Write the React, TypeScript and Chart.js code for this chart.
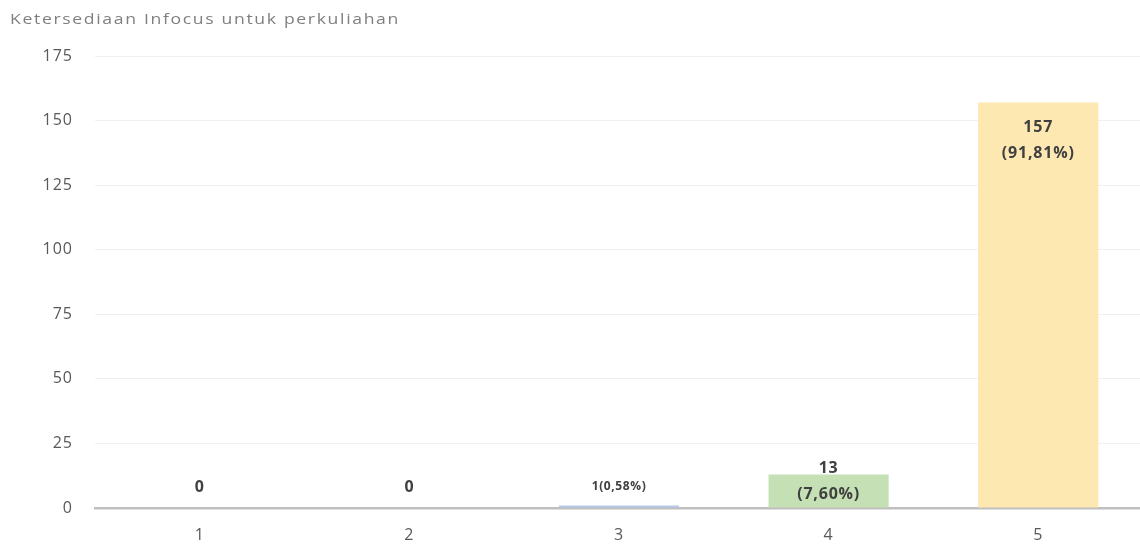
import React, { useEffect, useRef } from "react";
import { Chart, registerables } from "chart.js";

Chart.register(...registerables);

const chartTitle = "Ketersediaan Infocus untuk perkuliahan";
const categories = ["1", "2", "3", "4", "5"];
const counts = [0, 0, 1, 13, 157];
const percents = ["", "", "0,58%", "7,60%", "91,81%"];
const barColors = ["#b4c7e7", "#b4c7e7", "#b4c7e7", "#c5e0b4", "#fee8b2"];
const yTicks = [0, 25, 50, 75, 100, 125, 150, 175];

function labelLines(i: number): string[] {
  const c = counts[i];
  const p = percents[i];
  if (!p) return [String(c)];
  if (c === 1) return [`${c}(${p})`];
  return [String(c), `(${p})`];
}

const FONT = "'Open Sans', 'Noto Sans', sans-serif";

const spacingPlugin = {
  id: "spacing",
  beforeUpdate(chart: any) {
    (chart.ctx as any).letterSpacing = "1px";
  },
  beforeDraw(chart: any) {
    (chart.ctx as any).letterSpacing = "1px";
  },
};

const titlePlugin = {
  id: "leftTitle",
  afterDraw(chart: any) {
    const ctx = chart.ctx;
    ctx.save();
    ctx.font = `15px ${FONT}`;
    (ctx as any).letterSpacing = "1.4px";
    const w = ctx.measureText(chartTitle).width;
    const sx = 390 / w;
    ctx.translate(10, 20);
    ctx.scale(sx, 1);
    ctx.fillStyle = "#7f7f7f";
    ctx.textAlign = "left";
    ctx.textBaseline = "middle";
    ctx.fillText(chartTitle, 0, 0);
    ctx.restore();
  },
};

const labelPlugin = {
  id: "barLabels",
  afterDatasetsDraw(chart: any) {
    const ctx = chart.ctx;
    const meta = chart.getDatasetMeta(0);
    const base = chart.scales.y.getPixelForValue(0);
    ctx.save();
    ctx.fillStyle = "#404040";
    ctx.textAlign = "center";
    ctx.textBaseline = "middle";
    meta.data.forEach((bar: any, i: number) => {
      const lines = labelLines(i);
      const small = lines.length === 1 && lines[0].length > 4;
      ctx.font = `bold ${small ? 12 : 16}px ${FONT}`;
      (ctx as any).letterSpacing = small ? "0.6px" : "0.8px";
      const lh = 25.5;
      const height = base - bar.y;
      let first: number;
      if (height > lines.length * lh + 10) {
        first = bar.y + 25;
      } else {
        const center = lines.length === 1 ? base - 21 : base - 26.5;
        first = center - ((lines.length - 1) * lh) / 2;
      }
      lines.forEach((t, k) => ctx.fillText(t, bar.x, first + k * lh));
    });
    ctx.restore();
  },
};

export default function App() {
  const ref = useRef<HTMLCanvasElement>(null);
  useEffect(() => {
    document.body.style.margin = "0";
    const chart = new Chart(ref.current!, {
      type: "bar",
      data: {
        labels: categories,
        datasets: [
          {
            data: counts,
            backgroundColor: barColors,
            borderWidth: 0,
            categoryPercentage: 1,
            barPercentage: 0.573,
          },
        ],
      },
      options: {
        responsive: false,
        animation: false,
        devicePixelRatio: 1,
        layout: { padding: { top: 56, left: 0, right: 0, bottom: 0 } },
        plugins: {
          legend: { display: false },
          title: { display: false },
          tooltip: { enabled: false },
        },
        scales: {
          x: {
            afterFit: (s: any) => {
              s.height = 37;
            },
            grid: { display: false, drawTicks: false },
            border: { display: true, color: "#bfbfbf", width: 2.5 },
            ticks: { color: "#595959", font: { size: 16, family: FONT }, padding: 18 },
          },
          y: {
            min: 0,
            max: 175,
            afterBuildTicks: (s: any) => {
              s.ticks = yTicks.map((v) => ({ value: v }));
            },
            afterFit: (s: any) => {
              s.width = 95;
            },
            grid: { color: "#f0f0f0", drawTicks: false, lineWidth: 1 },
            border: { display: false },
            ticks: { color: "#595959", font: { size: 16, family: FONT }, padding: 22 },
          },
        },
      },
      plugins: [spacingPlugin, titlePlugin, labelPlugin],
    });
    return () => chart.destroy();
  }, []);
  return (
    <div style={{ width: 1140, height: 545, overflow: "hidden", background: "#fff" }}>
      <canvas ref={ref} width={1143} height={545} style={{ display: "block" }} />
    </div>
  );
}
